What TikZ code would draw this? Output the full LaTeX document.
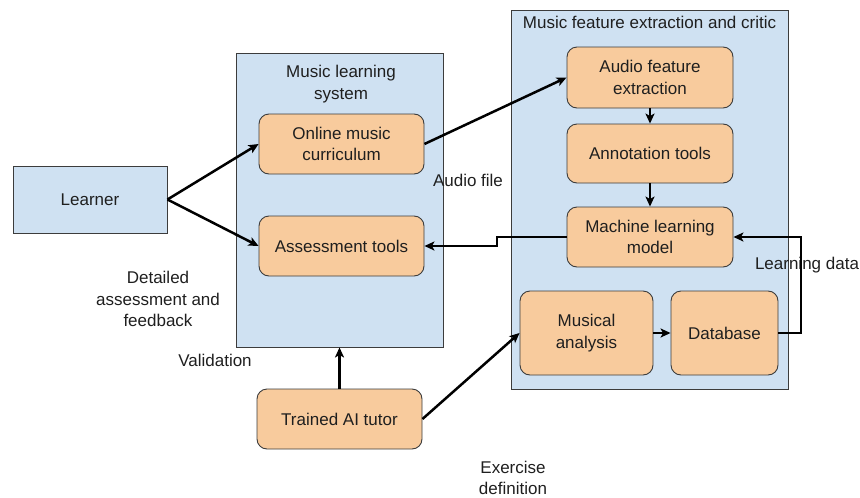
\documentclass[tikz,border=0pt]{standalone}
\usepackage{fontspec}
\setmainfont{Liberation Sans}
\usetikzlibrary{arrows.meta}
\definecolor{boxblue}{RGB}{207,225,242}
\definecolor{boxorange}{RGB}{248,203,157}
\definecolor{edgegray}{RGB}{60,60,60}
\begin{document}
\begin{tikzpicture}[x=1pt,y=-1pt,
  every node/.style={font=\fontsize{17}{21.5}\selectfont, text=black!88},
  container/.style={draw=edgegray, line width=0.9pt, fill=boxblue, inner sep=0pt},
  procbox/.style={draw=edgegray, line width=0.9pt, fill=boxorange, rounded corners=10pt, align=center, inner sep=0pt},
  lbl/.style={align=center, inner sep=0pt},
  conn/.style={line width=2.5pt, black, -{Stealth[length=10pt,width=9pt,inset=2.5pt]}}
]
\useasboundingbox (0,0) rectangle (860,498);
% containers
\node[container, minimum width=207pt, minimum height=294pt] (mls) at (339.5,200) {};
\node[container, minimum width=277pt, minimum height=379pt] (mfe) at (649.5,199.5) {};
\node[lbl] (mlstitle) at (341,84) {Music learning\\system};
\node[lbl] (mfetitle) at (649.5,22) {Music feature extraction and critic};
% boxes
\node[container, minimum width=154pt, minimum height=67pt] (learner) at (90,199.5) {Learner};
\node[procbox, minimum width=165pt, minimum height=60pt] (online) at (341.5,144) {Online music\\curriculum};
\node[procbox, minimum width=165pt, minimum height=60pt] (assess) at (341.5,246) {Assessment tools};
\node[procbox, minimum width=166pt, minimum height=61pt] (audio) at (650,77.5) {Audio feature\\extraction};
\node[procbox, minimum width=166pt, minimum height=59pt] (annot) at (650,153.5) {Annotation tools};
\node[procbox, minimum width=166pt, minimum height=60pt] (ml) at (650,237) {Machine learning\\model};
\node[procbox, minimum width=133pt, minimum height=84pt] (musical) at (586.5,333) {Musical\\analysis};
\node[procbox, minimum width=107pt, minimum height=84pt] (db) at (724.5,333) {Database};
\node[procbox, minimum width=165pt, minimum height=60pt] (tutor) at (339.5,419) {Trained AI tutor};
% labels
\node[lbl] (laudio) at (468,180) {Audio file};
\node[lbl] (llearn) at (807,265) {Learning data};
\node[lbl] (ldetail) at (158,299) {Detailed\\assessment and\\feedback};
\node[lbl] (lvalid) at (215,360) {Validation};
\node[lbl] (lexer) at (513,478) {Exercise\\definition};
% helper coordinates
\coordinate (mlbend) at (497,237);
\coordinate (dbbend) at (801,333);
% connectors
\draw[conn] (learner.east) -- (online.west);
\draw[conn] (learner.east) -- (assess.west);
\draw[conn] (online.east) -- (audio.west);
\draw[conn] (audio.south) -- (annot.north);
\draw[conn] (annot.south) -- (ml.north);
\draw[conn] (ml.west) -- (mlbend) -- (mlbend |- assess.east) -- (assess.east);
\draw[conn] (db.east) -- (dbbend) -- (dbbend |- ml.east) -- (ml.east);
\draw[conn] (musical.east) -- (db.west);
\draw[conn] (tutor.north) -- (mls.south);
\draw[conn] (tutor.east) -- (musical.west);
\end{tikzpicture}
\end{document}
